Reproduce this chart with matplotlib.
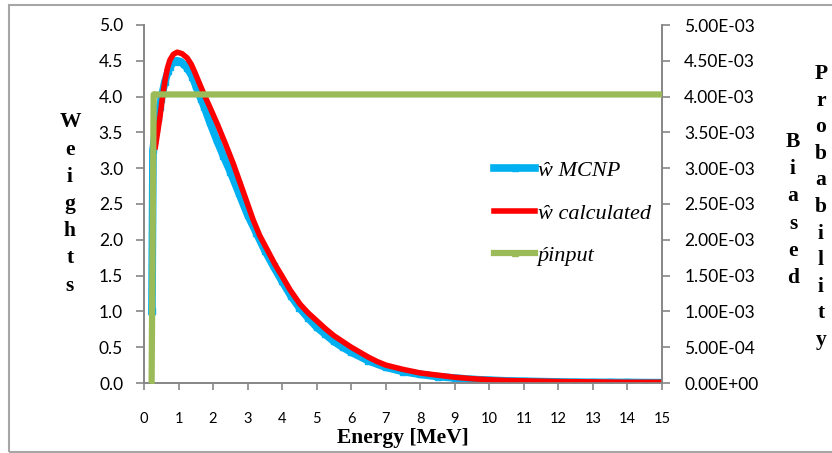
import matplotlib
matplotlib.use("Agg")
import matplotlib.pyplot as plt
from matplotlib.ticker import FuncFormatter, MultipleLocator
from matplotlib.patches import Rectangle

# ==============================
# DATA
# ==============================
e_mcnp = [0.23, 0.26, 0.3, 0.35, 0.4, 0.45, 0.5, 0.6, 0.7, 0.75, 0.85, 0.95,
          1.05, 1.15, 1.25, 1.4, 1.5, 1.65, 1.75, 1.9, 2.1, 2.3, 2.5, 2.75, 3.0,
          3.25, 3.5, 3.75, 4.0, 4.25, 4.5, 4.75, 5.0, 5.25, 5.5, 5.75, 6.0,
          6.5, 7.0, 7.5, 8.0, 8.5, 9.0, 9.5, 10.0, 10.5, 11.0, 11.5, 12.0,
          12.5, 13.0, 13.5, 14.0, 14.5, 15.0]
w_mcnp = [1.0, 3.25, 3.4, 3.55, 3.7, 3.85, 3.97, 4.2, 4.36, 4.42, 4.48, 4.50,
          4.49, 4.45, 4.40, 4.28, 4.15, 3.97, 3.85, 3.65, 3.40, 3.17, 2.95,
          2.65, 2.35, 2.10, 1.85, 1.63, 1.42, 1.22, 1.05, 0.91, 0.78, 0.68,
          0.58, 0.50, 0.43, 0.31, 0.22, 0.16, 0.12, 0.09, 0.07, 0.05, 0.04,
          0.03, 0.025, 0.02, 0.015, 0.012, 0.01, 0.009, 0.008, 0.006, 0.005]

e_calc = [0.33, 0.4, 0.46, 0.53, 0.61, 0.68, 0.75, 0.85, 0.96, 1.1, 1.25,
          1.37, 1.48, 1.6, 1.74, 1.9, 2.12, 2.35, 2.58, 2.78, 3.0, 3.16, 3.35,
          3.57, 3.8, 4.0, 4.23, 4.52, 4.75, 5.0, 5.25, 5.5, 5.75, 6.0, 6.25,
          6.5, 6.75, 7.0, 7.5, 8.0, 8.5, 9.0, 9.5, 10.0, 10.5, 11.0, 12.0,
          13.0, 14.0, 15.0]
w_calc = [3.3, 3.52, 3.71, 3.97, 4.23, 4.40, 4.51, 4.59, 4.62, 4.60, 4.54,
          4.45, 4.33, 4.19, 4.03, 3.86, 3.62, 3.35, 3.07, 2.80, 2.50, 2.28,
          2.06, 1.86, 1.65, 1.49, 1.30, 1.10, 0.98, 0.87, 0.76, 0.66, 0.58,
          0.50, 0.43, 0.36, 0.30, 0.25, 0.19, 0.14, 0.11, 0.08, 0.06, 0.045,
          0.035, 0.03, 0.02, 0.015, 0.01, 0.01]

e_input = [0.22, 0.28, 1, 2, 3, 4, 5, 6, 7, 8, 9, 10, 11, 12, 13, 14, 15]
p_input = [0.0, 4.03e-3, 4.03e-3, 4.03e-3, 4.03e-3, 4.03e-3, 4.03e-3, 4.03e-3,
           4.03e-3, 4.03e-3, 4.03e-3, 4.03e-3, 4.03e-3, 4.03e-3, 4.03e-3,
           4.03e-3, 4.03e-3]

x_ticks = list(range(0, 16))

# ==============================
# FIGURE
# ==============================
W, H = 832, 453
fig = plt.figure(figsize=(W / 100, H / 100), dpi=100)
ax = fig.add_axes([144 / W, 1 - 383 / H, (662 - 144) / W, (383 - 25) / H])
ax2 = ax.twinx()

grey = "#868686"
tick_font = "Lato"
serif = ["Liberation Serif", "DejaVu Serif"]
blue, red, green = "#00B0F0", "#FF0000", "#9BBB59"

l1, = ax.plot(e_mcnp, w_mcnp, color=blue, lw=5.5, marker="s", ms=4.5,
              mec=blue, mfc=blue, zorder=2, label="ŵ MCNP")
l2, = ax.plot(e_calc, w_calc, color=red, lw=4, zorder=3,
              solid_joinstyle="round", label="ŵ calculated")
l3, = ax2.plot(e_input, p_input, color=green, lw=4.5, marker="^", ms=4,
               mec=green, mfc=green, markevery=[0, 1], zorder=4,
               label="ṕinput")

ax.set_xlim(0, 15)
ax.set_ylim(0, 5)
ax2.set_ylim(0, 5e-3)
ax.set_xticks(x_ticks)
ax.yaxis.set_major_locator(MultipleLocator(0.5))
ax2.yaxis.set_major_locator(MultipleLocator(5e-4))
ax.yaxis.set_major_formatter(FuncFormatter(lambda v, p: f"{v:.1f}"))
ax2.yaxis.set_major_formatter(FuncFormatter(lambda v, p: f"{v:.2E}"))

for a in (ax, ax2):
    a.spines["top"].set_visible(False)
    for s in ("left", "right", "bottom"):
        a.spines[s].set_color(grey)
        a.spines[s].set_linewidth(1.2)
ax.tick_params(axis="y", direction="out", length=6, width=1.2, color=grey,
               pad=9, labelsize=12.5, labelcolor="black")
ax.tick_params(axis="x", direction="out", length=5, width=1.2, color=grey,
               pad=16, labelsize=10.5, labelcolor="black")
ax2.tick_params(axis="y", direction="out", length=6, width=1.2, color=grey,
                pad=10, labelsize=12.5, labelcolor="black")
for lab in ax.get_xticklabels() + ax.get_yticklabels() + ax2.get_yticklabels():
    lab.set_fontfamily(tick_font)

# ==============================
# LABELS (stacked letters)
# ==============================
lab_kw = dict(family=serif, fontweight="bold", fontsize=15.5, ha="center",
              va="center")
fig.text(70 / W, 1 - 204 / H, "\n".join("Weights"), linespacing=1.48, **lab_kw)
fig.text(793 / W, 1 - 210 / H, "\n".join("Biased"), linespacing=1.48, **lab_kw)
fig.text(821 / W, 1 - 207 / H, "\n".join("Probability"), linespacing=1.44,
         **lab_kw)
fig.text(403 / W, 1 - 438 / H, "Energy [MeV]", family=serif,
         fontweight="bold", fontsize=15.5, ha="center", va="center")


# ==============================
# LEGEND (fitted to the reference box: text 113 px wide, rows 42.5 px apart)
# ==============================
def make_legend(fs, ls, anchor):
    px = fs * 100 / 72
    return ax2.legend(handles=[l1, l2, l3], loc="upper left",
                      bbox_to_anchor=anchor, bbox_transform=fig.transFigure,
                      frameon=False, borderpad=0, borderaxespad=0,
                      handlelength=41 / px, handletextpad=2.5 / px,
                      labelspacing=ls,
                      prop=dict(family=serif, style="italic", size=fs))


def text_boxes(leg):
    fig.canvas.draw()
    r = fig.canvas.get_renderer()
    return [t.get_window_extent(r) for t in leg.get_texts()]


fs, ls, anchor = 15.5, 1.1, (494 / W, 1 - 150 / H)
leg = make_legend(fs, ls, anchor)
bb = text_boxes(leg)
fs = fs * 113 / bb[1].width
leg.remove()
leg = make_legend(fs, ls, anchor)
bb = text_boxes(leg)
pitch = (bb[0].y0 - bb[2].y0) / 2
ls = ls + (42.5 - pitch) / (fs * 100 / 72)
leg.remove()
leg = make_legend(fs, ls, anchor)
bb = text_boxes(leg)
dy = ((H - 214) - (bb[1].y0 + bb[1].y1) / 2) / H
leg.remove()
leg = make_legend(fs, ls, (anchor[0], anchor[1] + dy))

# outer frame
fig.patches.append(Rectangle((9 / W, 1 - 452 / H), 840 / W, 447 / H,
                             transform=fig.transFigure, fill=False,
                             edgecolor="#A6A6A6", lw=1.5))

fig.savefig("out.png", dpi=100)
